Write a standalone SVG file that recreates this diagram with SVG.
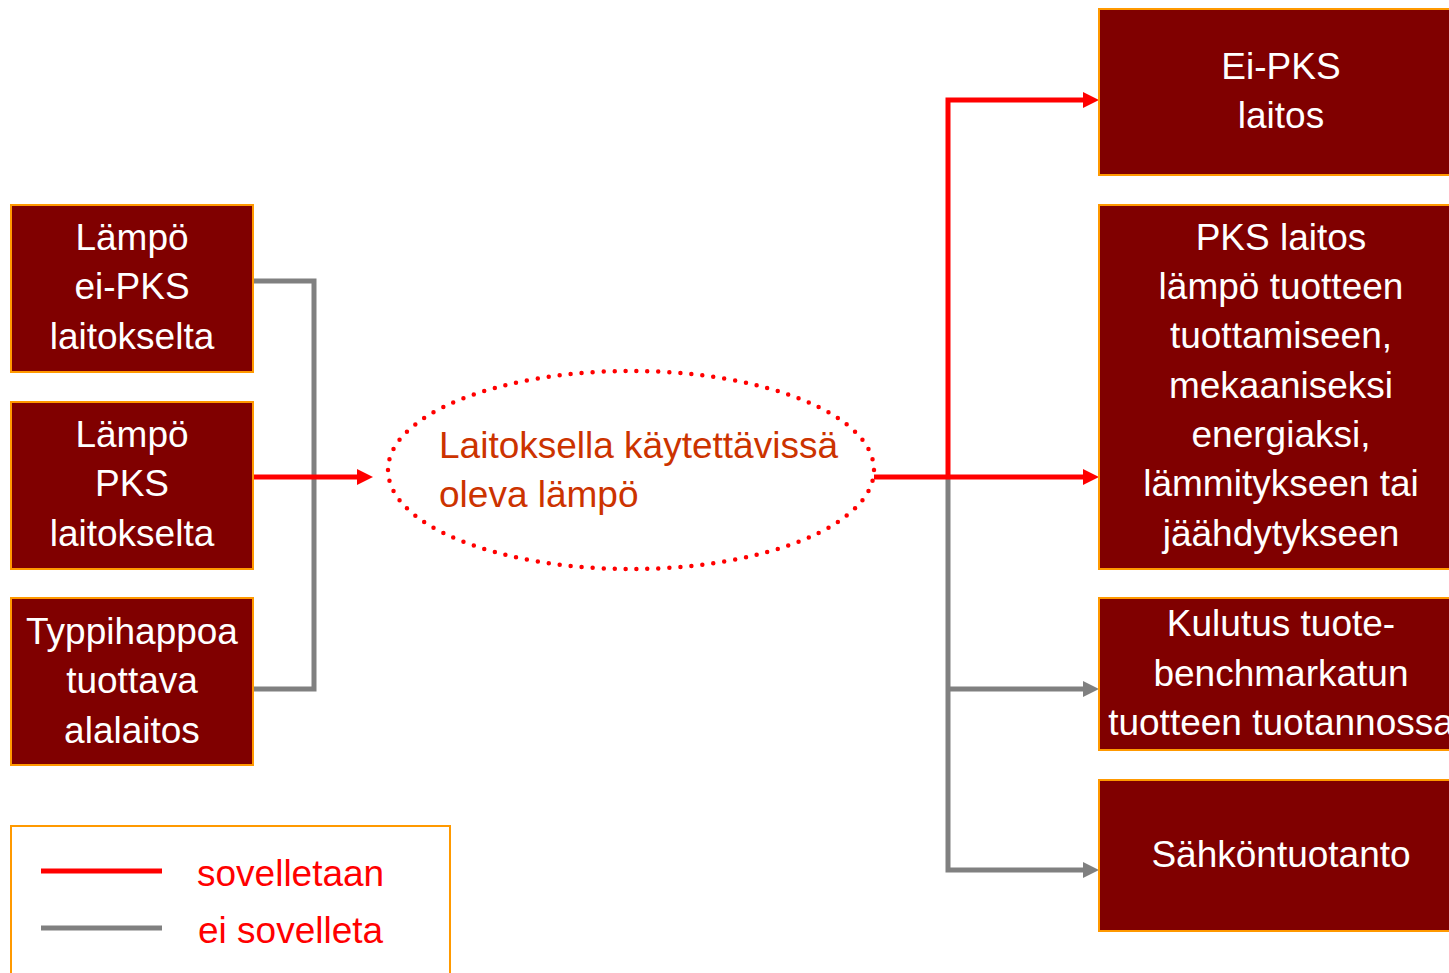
<svg xmlns="http://www.w3.org/2000/svg" width="1449" height="973" viewBox="0 0 1449 973">
<style>
.box{fill:#800000;stroke:#FF9900;stroke-width:2}
.bt{fill:#FFFFFF;font-family:"Liberation Sans",Arial,sans-serif;font-size:37px;text-anchor:middle}
.red{stroke:#FF0000;stroke-width:5;fill:none}
.grey{stroke:#808080;stroke-width:5;fill:none}
.lt{fill:#FF0000;font-family:"Liberation Sans",Arial,sans-serif;font-size:37px}
</style>
<defs>
<marker id="ar" viewBox="0 0 16 16" refX="0" refY="8" markerWidth="16" markerHeight="16" markerUnits="userSpaceOnUse" orient="auto"><path d="M0,0 L16,8 L0,16 z" fill="#FF0000"/></marker>
<marker id="ag" viewBox="0 0 16 16" refX="0" refY="8" markerWidth="16" markerHeight="16" markerUnits="userSpaceOnUse" orient="auto"><path d="M0,0 L16,8 L0,16 z" fill="#808080"/></marker>
</defs>
<rect width="1449" height="973" fill="#FFFFFF"/>
<g id="connectors">
<path class="grey" d="M253,281 H314 V689 H253"/>
<path class="red" d="M253,477 H357" marker-end="url(#ar)"/>
<path class="grey" d="M948,477 V870 H1083" marker-end="url(#ag)"/>
<path class="grey" d="M948,689 H1083" marker-end="url(#ag)"/>
<path class="red" d="M948,477 V100 H1083" marker-end="url(#ar)"/>
<path class="red" d="M874,477 H1083" marker-end="url(#ar)"/>
</g>
<g id="n1"><rect class="box" x="11" y="205" width="242" height="167"/>
<text class="bt"><tspan x="132" y="250">Lämpö</tspan><tspan x="132" y="299">ei-PKS</tspan><tspan x="132" y="349">laitokselta</tspan></text></g>
<g id="n2"><rect class="box" x="11" y="402" width="242" height="167"/>
<text class="bt"><tspan x="132" y="447">Lämpö</tspan><tspan x="132" y="496">PKS</tspan><tspan x="132" y="546">laitokselta</tspan></text></g>
<g id="n3"><rect class="box" x="11" y="598" width="242" height="167"/>
<text class="bt"><tspan x="132" y="644">Typpihappoa</tspan><tspan x="132" y="693">tuottava</tspan><tspan x="132" y="743">alalaitos</tspan></text></g>
<g id="center"><ellipse cx="631" cy="470" rx="243" ry="99" fill="none" stroke="#FF0000" stroke-width="4.5" stroke-linecap="round" stroke-dasharray="0 11"/>
<text font-family="'Liberation Sans',Arial,sans-serif" font-size="37" fill="#CC3300"><tspan x="439" y="458">Laitoksella käytettävissä</tspan><tspan x="439" y="507">oleva lämpö</tspan></text></g>
<g id="r1"><rect class="box" x="1099" y="9" width="364" height="166"/>
<text class="bt"><tspan x="1281" y="79">Ei-PKS</tspan><tspan x="1281" y="128">laitos</tspan></text></g>
<g id="r2"><rect class="box" x="1099" y="205" width="364" height="364"/>
<text class="bt"><tspan x="1281" y="250">PKS laitos</tspan><tspan x="1281" y="299">lämpö tuotteen</tspan><tspan x="1281" y="348">tuottamiseen,</tspan><tspan x="1281" y="398">mekaaniseksi</tspan><tspan x="1281" y="447">energiaksi,</tspan><tspan x="1281" y="496">lämmitykseen tai</tspan><tspan x="1281" y="546">jäähdytykseen</tspan></text></g>
<g id="r3"><rect class="box" x="1099" y="598" width="364" height="152"/>
<text class="bt"><tspan x="1281" y="636">Kulutus tuote-</tspan><tspan x="1281" y="686">benchmarkatun</tspan><tspan x="1281" y="735">tuotteen tuotannossa</tspan></text></g>
<g id="r4"><rect class="box" x="1099" y="780" width="364" height="151"/>
<text class="bt"><tspan x="1281" y="867">Sähköntuotanto</tspan></text></g>
<g id="legend"><rect x="11" y="826" width="439" height="170" fill="none" stroke="#FF9900" stroke-width="2"/>
<line x1="41" y1="871" x2="162" y2="871" class="red"/>
<line x1="41" y1="928" x2="162" y2="928" class="grey"/>
<text class="lt" x="197" y="886">sovelletaan</text>
<text class="lt" x="198" y="943">ei sovelleta</text></g>
</svg>
